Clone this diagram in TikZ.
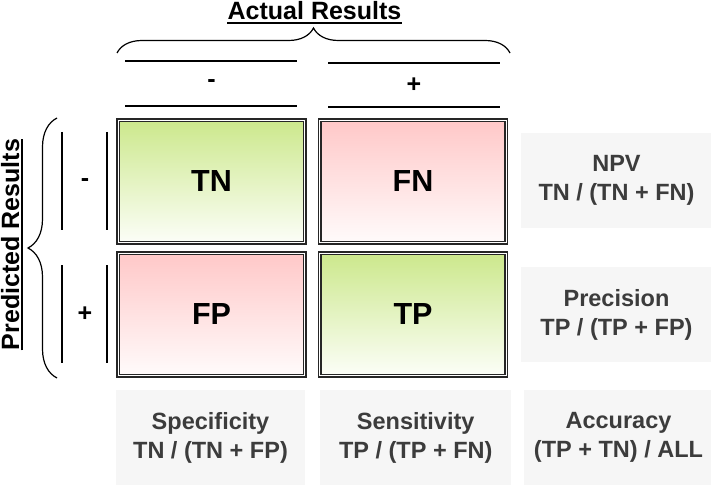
\documentclass[tikz,border=0pt]{standalone}
\usepackage{fontspec}
\setmainfont{Liberation Sans}
\usetikzlibrary{decorations.pathreplacing}
\definecolor{gtop}{RGB}{204,232,140}
\definecolor{gbot}{RGB}{252,254,248}
\definecolor{ptop}{RGB}{255,200,200}
\definecolor{pbot}{RGB}{255,251,251}
\definecolor{boxgray}{RGB}{246,246,246}
\definecolor{txtgray}{RGB}{60,60,60}
\begin{document}
\begin{tikzpicture}[x=1pt,y=1pt,
  cell/.style={draw=black!85, double=white, double distance=1.3pt, line width=1.3pt,
    minimum width=186.5pt, minimum height=122.5pt, inner sep=0,
    font=\fontsize{30.5}{36}\selectfont\bfseries},
  greencell/.style={cell, top color=gtop, bottom color=gbot},
  pinkcell/.style={cell, top color=ptop, bottom color=pbot},
  metric/.style={fill=boxgray, inner sep=0, text=txtgray, align=center,
    minimum height=95pt, font=\fontsize{23.5}{29}\selectfont\bfseries},
  hrule/.style={line width=1.3pt},
  sign/.style={font=\fontsize{25}{28}\selectfont\bfseries, inner sep=0},
  bracestyle/.style={decorate, decoration={brace, amplitude=#1}, line width=1.2pt},
  heading/.style={font=\fontsize{25}{30}\selectfont\bfseries, inner sep=0},
  ulstyle/.style={line width=1.8pt}
]
\useasboundingbox (0,0) rectangle (711,485);

% title
\node[heading, anchor=base] (title) at (314.5,465) {Actual Results};
\draw[ulstyle] ([yshift=-2.8pt]title.base west) -- ([yshift=-2.8pt]title.base east);
\coordinate (tbl) at (117,432);
\coordinate (tbr) at (510,432);
\draw[bracestyle=25pt] (tbl) -- (tbr);

% column headers
\coordinate (c1a) at (125,424); \coordinate (c1b) at (297,424);
\coordinate (c1c) at (125,379); \coordinate (c1d) at (297,379);
\coordinate (c2a) at (328,422); \coordinate (c2b) at (500,422);
\coordinate (c2c) at (328,378); \coordinate (c2d) at (500,378);
\draw[hrule] (c1a) -- (c1b);
\draw[hrule] (c1c) -- (c1d);
\draw[hrule] (c2a) -- (c2b);
\draw[hrule] (c2c) -- (c2d);
\node[sign] (colneg) at (211.5,401) {-};
\node[sign] (colpos) at (414,400) {+};

% predicted results
\node[heading, rotate=90, anchor=base] (pred) at (19,240.5) {Predicted Results};
\draw[ulstyle] ([xshift=2.8pt]pred.base west) -- ([xshift=2.8pt]pred.base east);
\coordinate (lbb) at (57,107);
\coordinate (lbt) at (57,367);
\draw[bracestyle=29pt] (lbb) -- (lbt);

% row headers
\coordinate (r1a) at (62,353); \coordinate (r1b) at (62,255);
\coordinate (r1c) at (107,353); \coordinate (r1d) at (107,255);
\coordinate (r2a) at (62,220); \coordinate (r2b) at (62,122);
\coordinate (r2c) at (107,220); \coordinate (r2d) at (107,122);
\draw[hrule] (r1a) -- (r1b);
\draw[hrule] (r1c) -- (r1d);
\draw[hrule] (r2a) -- (r2b);
\draw[hrule] (r2c) -- (r2d);
\node[sign] (rowneg) at (85,302) {-};
\node[sign] (rowpos) at (85,170.5) {+};

% cells
\node[greencell] (tn) at (211.5,303.5) {TN};
\node[pinkcell]  (fn) at (413,303.5) {FN};
\node[pinkcell]  (fp) at (211.5,170.5) {FP};
\node[greencell] (tp) at (413,170.5) {TP};

% metrics
\node[metric, minimum width=191pt] (npv) at (616.5,304.5) {NPV\\TN / (TN + FN)};
\node[metric, minimum width=191pt] (prec) at (616.5,170.5) {Precision\\TP / (TP + FP)};
\node[metric, minimum width=189pt] (spec) at (210.5,47.5) {Specificity\\TN / (TN + FP)};
\node[metric, minimum width=190.6pt] (sens) at (415.7,47.5) {Sensitivity\\TP / (TP + FN)};
\node[metric, minimum width=190pt] (acc) at (618.5,47.5) {Accuracy\\(TP + TN) / ALL};
\end{tikzpicture}
\end{document}
